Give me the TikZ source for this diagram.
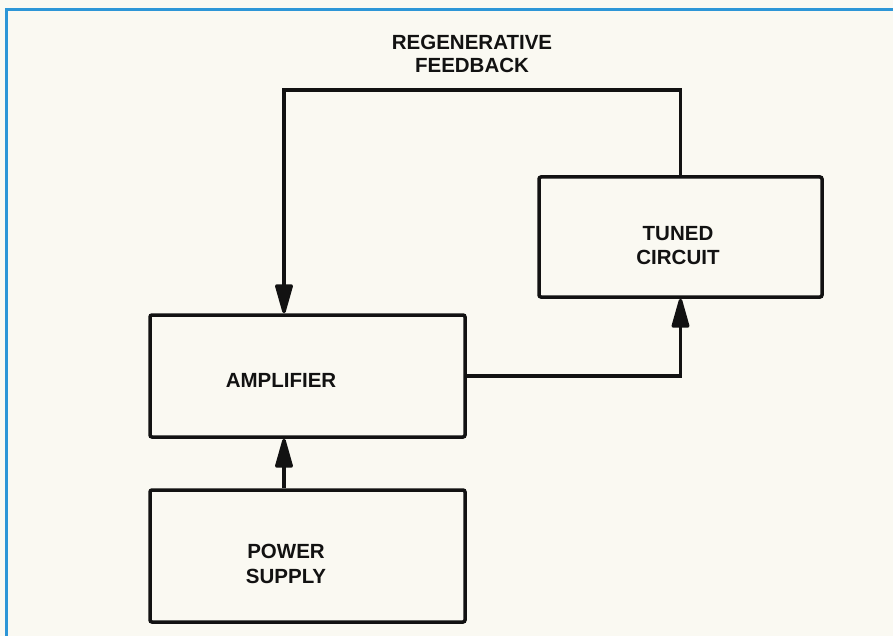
\documentclass[tikz,border=0pt]{standalone}
\usepackage{fontspec}
\setmainfont{Liberation Sans}
\usetikzlibrary{arrows.meta}
\definecolor{paper}{RGB}{250,249,242}
\definecolor{frameblue}{RGB}{45,150,215}
\definecolor{ink}{RGB}{18,18,18}
\begin{document}
\begin{tikzpicture}[x=1pt,y=-1pt,
  blockbox/.style={draw=ink, line width=3.5pt, rounded corners=2pt, inner sep=0pt},
  lbl/.style={text=ink, font=\fontsize{20.5}{24.5}\selectfont\bfseries, align=center, inner sep=0pt},
  conn/.style={draw=ink, line width=3.5pt},
  arr/.style={conn, -{Triangle[length=34pt,width=18pt,round]}}]
\fill[paper] (0,0) rectangle (893,636);
\useasboundingbox (0,0) rectangle (893,636);
\draw[frameblue, line width=3pt] (6,640) -- (6,10) -- (897,10);
% blocks
\node[blockbox, minimum width=315pt, minimum height=122pt] (amp) at (307.5,376) {};
\node[blockbox, minimum width=315pt, minimum height=132pt] (psu) at (307.5,556) {};
\node[blockbox, minimum width=283pt, minimum height=120pt] (tuned) at (680.5,237) {};
% labels
\node[lbl] (ampt) at (281,380) {AMPLIFIER};
\node[lbl] (psut) at (286,564) {POWER\\SUPPLY};
\node[lbl] (tunedt) at (678,245.5) {TUNED\\CIRCUIT};
\node[lbl, font=\fontsize{20.5}{23}\selectfont\bfseries] (regen) at (472,53.5) {REGENERATIVE\\FEEDBACK};
% connectors
\coordinate (fbl) at (284,90);
\coordinate (fbr) at (680.5,90);
\coordinate (ampin) at (284,437);
\coordinate (ampout) at (284,315);
\draw[arr] (psu.north -| ampin) -- (amp.south -| ampin);
\draw[arr] (tuned.north) -- (fbr) -- (fbl) -- (amp.north -| ampout);
\draw[arr] (amp.east) -| (tuned.south);
\end{tikzpicture}
\end{document}
